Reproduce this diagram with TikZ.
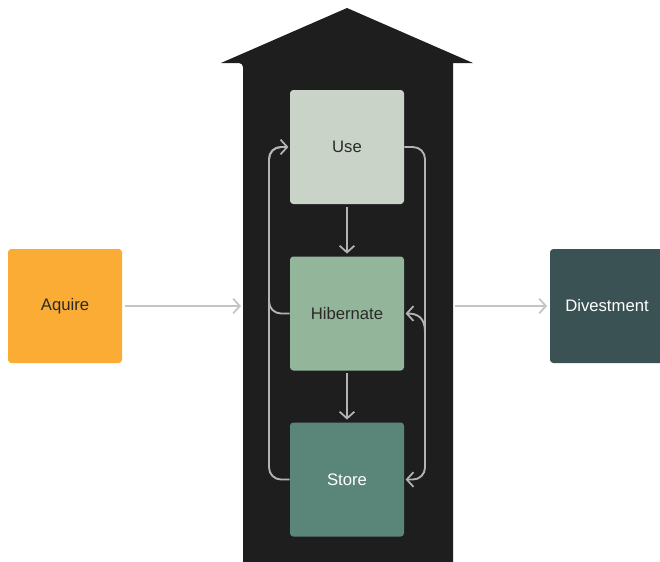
\documentclass[tikz,border=0pt]{standalone}
\usepackage{fontspec}
\setmainfont{Liberation Sans}
\usetikzlibrary{arrows.meta}
\definecolor{housedark}{HTML}{1E1E1E}
\definecolor{usefill}{HTML}{CAD3C8}
\definecolor{hibfill}{HTML}{93B59A}
\definecolor{storefill}{HTML}{5A867A}
\definecolor{aqfill}{HTML}{FBAC34}
\definecolor{divfill}{HTML}{3A5253}
\definecolor{inkdark}{HTML}{2A2A2A}
\definecolor{outerline}{HTML}{C4C4C4}
\definecolor{innerline}{HTML}{B4B4B4}
\tikzset{
  stage/.style={rounded corners=2.5pt, minimum width=85.5pt, minimum height=85.5pt,
    inner sep=0pt, font=\fontsize{12.5}{14}\selectfont},
  wire/.style={line width=1.4pt, rounded corners=9pt},
  flow/.style={wire, -{Straight Barb[length=5pt,width=11pt,line width=1.3pt]}},
}
\begin{document}
\begin{tikzpicture}[x=0.75pt,y=-0.75pt]
\useasboundingbox (0,0) rectangle (660,561);
\fill[white] (0,0) rectangle (660,561);

% warehouse silhouette
\fill[housedark, rounded corners=3pt]
  (243,575) -- (243,63) [sharp corners] -- (221,63) -- (347,8) -- (473,63) -- (453,63) [rounded corners=3pt] -- (453,575) -- cycle;
\fill[housedark] (243,58) rectangle (453,70);

% stages inside the warehouse
\node[stage, fill=usefill, text=inkdark] (use) at (347,147) {Use};
\node[stage, fill=hibfill, text=inkdark] (hib) at (347,313.5) {Hibernate};
\node[stage, fill=storefill, text=white] (store) at (347,479.5) {Store};

% outside stages
\node[stage, fill=aqfill, text=inkdark] (aq) at (65,306) {Aquire};
\node[stage, fill=divfill, text=white] (div) at (607,306) {Divestment};

% helper coordinates
\coordinate (lc) at (269,0);
\coordinate (rc) at (425,0);
\coordinate (inA) at (241,306);
\coordinate (outD) at (455,306);
\coordinate (branch) at (425,332);

% outer flow
\draw[flow, outerline, shorten <=2pt] (aq.east) -- (inA);
\draw[flow, outerline, shorten >=2pt] (outD) -- (div.west);

% downward flow
\draw[flow, innerline, shorten <=2pt, shorten >=2pt] (use.south) -- (hib.north);
\draw[flow, innerline, shorten <=2pt, shorten >=2pt] (hib.south) -- (store.north);

% return loops on the left
\draw[wire, innerline, shorten >=6pt] (store.west) -| (lc |- use.west) -- (use.west);
\draw[flow, innerline, shorten >=1pt] (hib.west) -| (lc |- use.west) -- (use.west);

% loops on the right
\draw[flow, innerline, shorten >=1pt] (use.east) -| (rc |- store.east) -- (store.east);
\draw[flow, innerline, shorten >=1pt] (branch) .. controls (425,318) and (418,313.5) .. (hib.east);
\end{tikzpicture}
\end{document}
